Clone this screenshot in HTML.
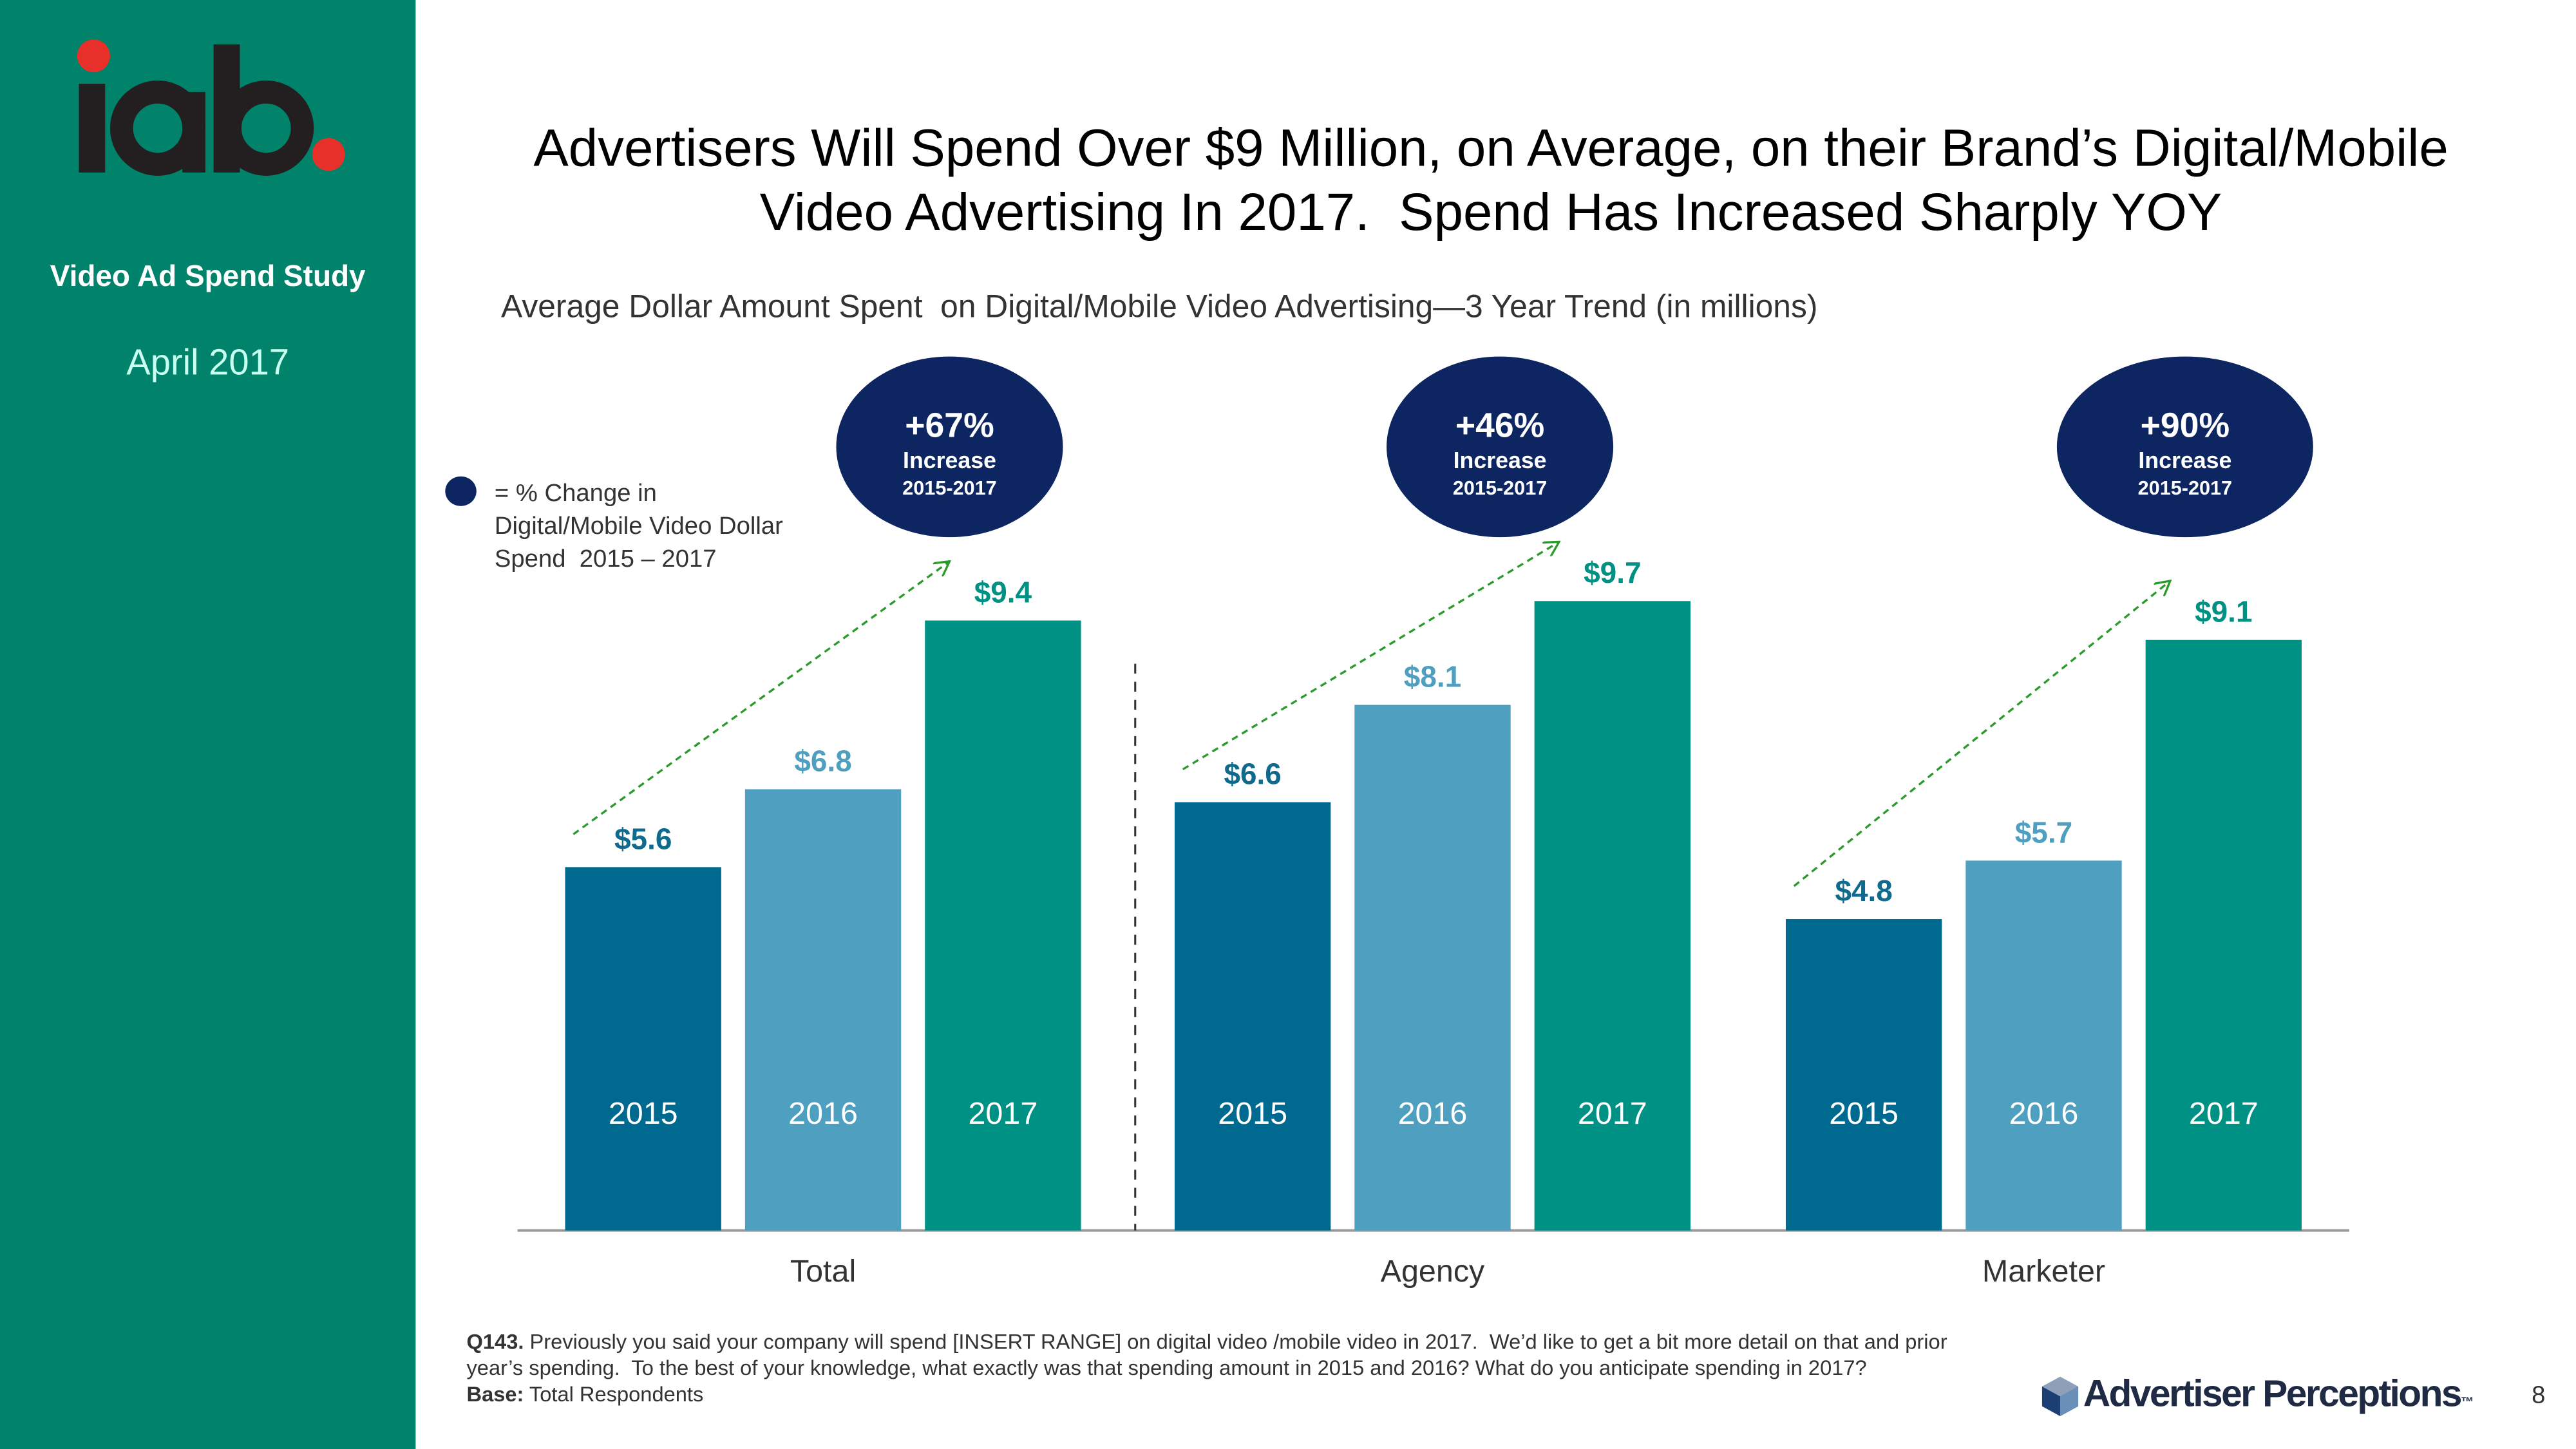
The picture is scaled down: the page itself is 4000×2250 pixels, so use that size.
<!DOCTYPE html>
<html><head><meta charset="utf-8"><style>
html,body{margin:0;padding:0;background:#fff;overflow:hidden}
#wrap{position:absolute;left:0;top:0;width:1568px;height:882px;transform-origin:0 0;transform:scale(2.55102,2.55102);font-family:"Liberation Sans",sans-serif}
.abs{position:absolute;white-space:nowrap}
</style></head><body>
<div id="wrap">
<div class="abs" style="left:0;top:0;width:253px;height:882px;background:#00836a"></div>
<svg class="abs" style="left:40px;top:20px" width="180" height="100" viewBox="0 0 180 100">
<circle cx="17" cy="14" r="10" fill="#e8302a"/>
<rect x="8" y="31" width="16" height="54" fill="#231f20"/>
<circle cx="56" cy="58" r="22" fill="none" stroke="#231f20" stroke-width="14"/>
<rect x="71" y="36" width="14" height="49" fill="#231f20"/>
<rect x="90" y="7" width="16" height="78" fill="#231f20"/>
<circle cx="122" cy="58" r="22" fill="none" stroke="#231f20" stroke-width="14"/>
<circle cx="160" cy="74" r="10" fill="#e8302a"/>
</svg>
<div class="abs" style="left:0;width:253px;text-align:center;top:158px;font-size:18px;font-weight:bold;color:#fff">Video Ad Spend Study</div>
<div class="abs" style="left:0;width:253px;text-align:center;top:208px;font-size:22px;color:#c8fff0">April 2017</div>
<div class="abs" style="left:300px;width:1215px;text-align:center;top:71px;font-size:32px;line-height:39px;color:#000">Advertisers Will Spend Over $9 Million, on Average, on their Brand’s Digital/Mobile<br>Video Advertising In 2017.&nbsp; Spend Has Increased Sharply YOY</div>
<div class="abs" style="left:305px;top:176px;font-size:19.5px;color:#333">Average Dollar Amount Spent&nbsp; on Digital/Mobile Video Advertising—3 Year Trend (in millions)</div>
<div class="abs" style="left:271px;top:290px;width:19px;height:18px;border-radius:50%;background:#0d2560"></div>
<div class="abs" style="left:301px;top:291px;font-size:15px;line-height:20px;color:#333">= % Change in<br>Digital/Mobile Video Dollar<br>Spend&nbsp; 2015 – 2017</div>
<svg id="chart" class="abs" style="left:0;top:0" width="1568" height="882"></svg>
<div class="abs" style="left:284px;top:809px;font-size:12.8px;line-height:16px;color:#333">
<b>Q143.</b> Previously you said your company will spend [INSERT RANGE] on digital video /mobile video in 2017.&nbsp; We’d like to get a bit more detail on that and prior<br>year’s spending.&nbsp; To the best of your knowledge, what exactly was that spending amount in 2015 and 2016? What do you anticipate spending in 2017?<br><b>Base:</b> Total Respondents</div>
<svg class="abs" style="left:1241px;top:837px" width="26" height="26" viewBox="0 0 26 26"><polygon points="13,1 24,7 24,19 13,25 2,19 2,7" fill="#1c3f73"/><polygon points="13,13 24,7 24,19 13,25" fill="#6a8fb8"/><polygon points="13,13 2,7 13,1 24,7" fill="#fff" opacity="0.5"/></svg>
<div class="abs" style="left:1268px;top:835px;font-size:23px;font-weight:bold;color:#1f2a44;letter-spacing:-1px">Advertiser Perceptions<span style="font-size:8px">™</span></div>
<div class="abs" style="left:1541px;top:841px;font-size:15px;color:#333">8</div>
</div>
<script>
const categories = ["Total","Agency","Marketer"];
const years = ["2015","2016","2017"];
const values2015 = [5.6, 6.6, 4.8];
const values2016 = [6.8, 8.1, 5.7];
const values2017 = [9.4, 9.7, 9.1];
const changeLabels = ["+67%","+46%","+90%"];
const series = [values2015, values2016, values2017];
const colors = ["#006990","#4e9fc0","#009185"];
const labelColors = ["#0f6a8e","#4e9fc0","#009185"];
const NS = "http://www.w3.org/2000/svg";
const svg = document.getElementById("chart");
const baseY = 749, perUnit = 39.5;
const y = v => baseY - v * perUnit;
const groupX = [344, 715, 1087], barStep = 109.5, barW = 95;
const x = (g, s) => groupX[g] + s * barStep;
function mk(tag, attrs, text){const e=document.createElementNS(NS,tag);for(const k in attrs)e.setAttribute(k,attrs[k]);if(text!==undefined)e.textContent=text;svg.appendChild(e);return e;}
const defs = mk("defs",{});
const m = document.createElementNS(NS,"marker");
m.setAttribute("id","arr");m.setAttribute("markerWidth","10");m.setAttribute("markerHeight","10");m.setAttribute("refX","9");m.setAttribute("refY","5");m.setAttribute("orient","auto");m.setAttribute("markerUnits","userSpaceOnUse");
const mp=document.createElementNS(NS,"path");mp.setAttribute("d","M0,0 L9,5 L0,10");mp.setAttribute("fill","none");mp.setAttribute("stroke","#2a9a2a");mp.setAttribute("stroke-width","1.3");m.appendChild(mp);defs.appendChild(m);
const axis = mk("line",{x1:315,y1:baseY,x2:1430,y2:baseY,stroke:"#999","stroke-width":1.5});


const sep = mk("line",{x1:691,y1:404,x2:691,y2:baseY,stroke:"#333","stroke-width":1.2,"stroke-dasharray":"6,5"});


categories.forEach((c,g)=>{
  series.forEach((vals,s)=>{
    const v = vals[g];
    const r = mk("rect",{x:x(g,s),y:y(v),width:barW,height:baseY-y(v),fill:colors[s]});
    
    
    const vl = mk("text",{x:x(g,s)+barW/2,y:y(v)-11,"text-anchor":"middle","font-size":18,"font-weight":"bold",fill:labelColors[s]},"$"+v.toFixed(1));
    
    
    const yl = mk("text",{x:x(g,s)+barW/2,y:684,"text-anchor":"middle","font-size":19,fill:"#fff"},years[s]);
    
    
  });
  const cl = mk("text",{x:x(g,1)+barW/2,y:780,"text-anchor":"middle","font-size":19,fill:"#333"},c);
  
  
  const x1 = x(g,0)+5, y1 = y(values2015[g])-20, x2 = x(g,2)+15, y2 = y(values2017[g])-36;
  const ar = mk("line",{x1:x1,y1:y1,x2:x2,y2:y2,stroke:"#2a9a2a","stroke-width":1.3,"stroke-dasharray":"4,3","marker-end":"url(#arr)"});
  
  
  const cx = [578,913,1330][g], rx = [69,69,78][g];
  const el = mk("ellipse",{cx:cx,cy:272,rx:rx,ry:55,fill:"#0d2560"});
  
  
  const t1 = mk("text",{x:cx,y:266,"text-anchor":"middle","font-size":21,"font-weight":"bold",fill:"#fff"},changeLabels[g]);
  
  
  const t2 = mk("text",{x:cx,y:285,"text-anchor":"middle","font-size":14,"font-weight":"bold",fill:"#fff"},"Increase");
  
  
  const t3 = mk("text",{x:cx,y:301,"text-anchor":"middle","font-size":12,"font-weight":"bold",fill:"#fff"},"2015-2017");
  
  
});
</script>
</body></html>
